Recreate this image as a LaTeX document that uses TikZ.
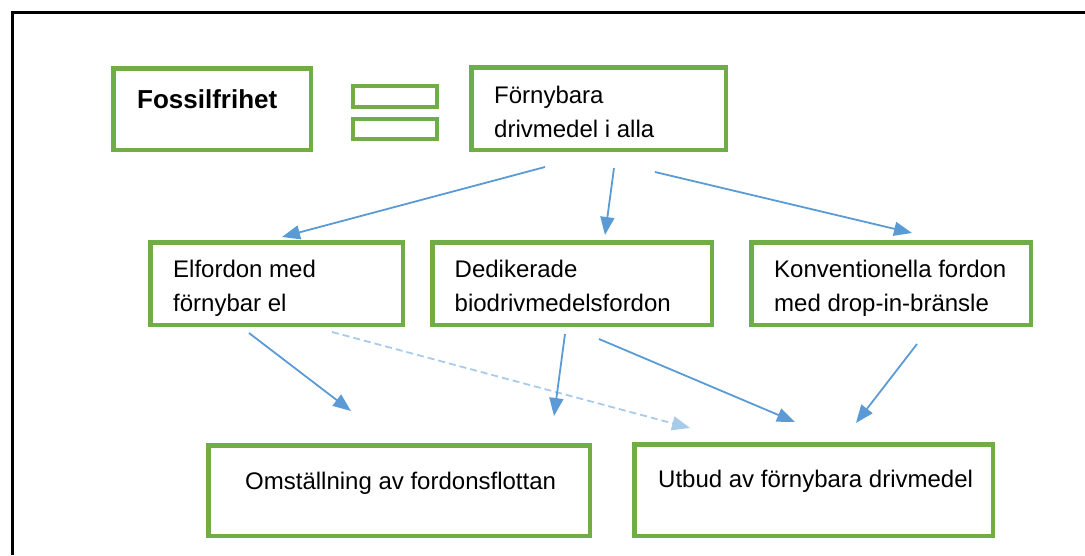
\documentclass[tikz,border=0pt]{standalone}
\usepackage{fontspec}
\setmainfont{Liberation Sans}
\usepackage{tikz}
\usetikzlibrary{arrows.meta,calc}

\definecolor{boxgreen}{HTML}{70AD47}
\definecolor{linkblue}{HTML}{5B9BD5}
\definecolor{paleblue}{HTML}{A9CBEA}

\begin{document}
\begin{tikzpicture}[x=1pt, y=-1pt,
  box/.style = {draw=boxgreen, line width=4.5pt, inner sep=0pt},
  txt/.style = {anchor=base west, inner sep=0pt, align=left, font=\fontsize{24}{34}\selectfont},
  link/.style = {draw=linkblue, line width=1.8pt, -{Triangle[length=18pt,width=14pt]}},
  weak/.style = {draw=paleblue, line width=1.8pt, dash pattern=on 7pt off 4pt, -{Triangle[length=18pt,width=14pt]}}]
  \useasboundingbox (0,0) rectangle (1085,555);
  % frame
  \draw[line width=3pt] (12.5,555) -- (12.5,12.5) -- (1085,12.5);
  % top row
  \node[box, minimum width=197.5pt, minimum height=81.5pt] (fossil) at (212,109) {};
  \node[txt, font=\fontsize{26}{34}\selectfont\bfseries] (fossilT) at ($(fossil.north west)+(26,42)$) {Fossilfrihet};
  \draw[draw=boxgreen, line width=4.5pt] (353,86) rectangle (437,107) (353,119) rectangle (437,139);
  \node[box, minimum width=254.5pt, minimum height=82.5pt] (forn) at (598.5,108.5) {};
  \node[txt] (fornT) at ($(forn.north west)+(25,72)$) {Förnybara\\drivmedel i alla};
  % middle row
  \node[box, minimum width=252.5pt, minimum height=82.5pt] (el) at (276.5,283.5) {};
  \node[txt] (elT) at ($(el.north west)+(25,71)$) {Elfordon med\\förnybar el};
  \node[box, minimum width=279.5pt, minimum height=82.5pt] (ded) at (572,283.5) {};
  \node[txt] (dedT) at ($(ded.north west)+(24.5,71)$) {Dedikerade\\biodrivmedelsfordon};
  \node[box, minimum width=279.5pt, minimum height=82.5pt] (konv) at (891,283.5) {};
  \node[txt] (konvT) at ($(konv.north west)+(25,71)$) {Konventionella fordon\\med drop-in-bränsle};
  % bottom row
  \node[box, minimum width=381.5pt, minimum height=90.5pt] (oms) at (399,490.5) {};
  \node[txt] (omsT) at ($(oms.north west)+(39,46)$) {Omställning av fordonsflottan};
  \node[box, minimum width=358.5pt, minimum height=91.5pt] (utb) at (813.5,490) {};
  \node[txt] (utbT) at ($(utb.north west)+(26,45)$) {Utbud av förnybara drivmedel};
  % arrows
  \draw[link] ($(forn.south)+(-53.5,15)$) -- ($(el.north)+(5.5,-3)$);
  \draw[link] ($(forn.south)+(15.5,16)$) -- ($(ded.north)+(33,-5)$);
  \draw[link] ($(forn.south)+(56.5,20)$) -- ($(konv.north)+(21,-7)$);
  \draw[link] ($(el.south)+(-27.5,6)$) -- ($(oms.north)+(-48,-32)$);
  \draw[weak] ($(el.south)+(55.5,5)$) -- ($(utb.north)+(-123.5,-14)$);
  \draw[link] ($(ded.south)+(-7,7)$) -- ($(oms.north)+(155,-27)$);
  \draw[link] ($(ded.south)+(27,12)$) -- ($(utb.north)+(-18.5,-20)$);
  \draw[link] ($(konv.south)+(26,17)$) -- ($(utb.north)+(42.5,-19)$);
\end{tikzpicture}
\end{document}
